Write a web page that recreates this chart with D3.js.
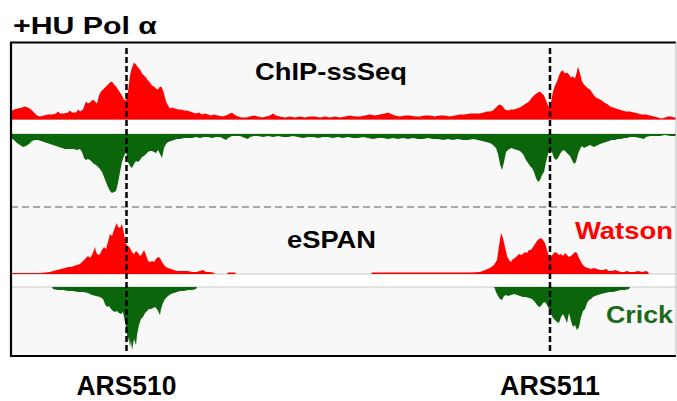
<!DOCTYPE html>
<html>
<head>
<meta charset="utf-8">
<script src="https://cdn.jsdelivr.net/npm/d3@7"></script>
<style>
  html, body { margin: 0; padding: 0; background: #ffffff; }
  svg { display: block; }
  text { font-family: "Liberation Sans", Arial, Helvetica, sans-serif; font-weight: bold; }
</style>
</head>
<body>
<svg id="chart" width="677" height="401"></svg>
<script>
// Genome browser window: positions are bin indices across the window, values are
// strand-specific read densities (Watson drawn upward, Crick drawn downward).
const windowBins = [0, 665];

// Origins marked with dashed guides
const origins = [
  { name: "ARS510", bin: 115.5 },
  { name: "ARS511", bin: 539 }
];

// ChIP-ssSeq, Watson strand  [bin, density]
const chipWatson = [
  [0,8],[3,10],[7,11],[11,12],[14,13],[17,12],[20,10],[23,7],[26,4],[29,3],[33,4],[37,5],[41,5],[45,6],[47,8],[49,6],
  [53,6],[57,7],[59,9],[61,7],[65,7],[67,10],[69,8],[72,10],[75,18],[77,16],[79,17],[82,20],[84,18],[86,16],[88,24],
  [90,28],[92,30],[95,33],[97,35],[99,37],[101,38],[103,35],[105,33],[107,30],[109,27],[111,24],[113,20],[115,19],
  [117,28],[119,44],[121,52],[123,57],[125,55],[127,52],[129,50],[131,46],[133,44],[135,42],[137,39],[139,37],[141,34],
  [143,33],[145,31],[147,30],[149,33],[151,32],[153,26],[155,18],[157,14],[159,11],[161,12],[164,11],[167,10],[170,10],
  [173,9],[176,9],[179,8],[182,7],[185,6],[188,7],[191,5],[194,6],[197,5],[200,4],[203,5],[207,4],[211,3],[215,4],
  [219,6],[221,7],[223,5],[227,3],[231,2],[235,2],[239,3],[243,4],[247,3],[251,2],[255,3],[259,4],[262,6],[265,4],
  [269,3],[274,2],[279,3],[284,2],[289,3],[294,2],[299,3],[304,3],[309,2],[314,3],[319,2],[324,3],[329,2],[334,3],
  [339,4],[344,3],[349,3],[354,4],[359,5],[364,4],[369,5],[374,6],[377,7],[379,6],[384,4],[389,3],[394,4],[399,4],
  [404,3],[409,3],[414,4],[419,4],[424,3],[429,4],[434,4],[439,3],[444,4],[449,5],[454,5],[459,6],[464,6],[469,6],
  [473,7],[476,8],[479,8],[482,9],[485,12],[488,15],[491,14],[494,10],[497,9],[500,10],[503,10],[506,11],[509,12],
  [512,14],[515,16],[518,18],[521,22],[524,25],[527,27],[529,28],[531,26],[533,24],[535,19],[537,14],[538,12],[540,17],
  [542,28],[544,34],[546,38],[548,44],[550,48],[552,49],[554,46],[556,47],[558,45],[560,42],[562,43],[564,41],[566,48],
  [567,53],[569,46],[571,38],[573,35],[575,33],[577,31],[579,30],[581,27],[583,24],[585,22],[587,21],[589,20],[591,19],
  [593,17],[595,16],[597,15],[599,13],[602,12],[605,11],[608,10],[611,9],[615,8],[619,8],[623,7],[627,6],[631,5],
  [635,5],[639,4],[643,3],[647,2],[651,1],[654,2],[657,3],[660,3],[663,2],[665,2]
];

// ChIP-ssSeq, Crick strand  [bin, density]
const chipCrick = [
  [0,4],[3,6],[6,9],[9,11],[12,13],[15,12],[18,10],[21,7],[24,6],[27,6],[30,7],[33,8],[36,9],[39,10],[42,11],[45,12],
  [48,13],[51,14],[54,15],[57,15],[60,15],[63,15],[66,16],[69,15],[71,18],[73,24],[75,26],[77,25],[79,26],[81,28],
  [83,30],[85,31],[87,33],[89,35],[91,38],[93,43],[95,48],[97,53],[99,57],[101,59],[103,58],[105,57],[107,49],[109,38],
  [111,28],[113,22],[115,18],[117,28],[119,32],[121,34],[123,30],[125,27],[127,28],[129,26],[131,23],[133,22],[135,20],
  [137,18],[139,17],[141,17],[143,18],[145,19],[147,16],[149,20],[151,24],[153,14],[155,10],[157,8],[160,7],[163,6],
  [166,5],[169,5],[173,4],[177,4],[181,4],[185,3],[189,4],[193,3],[197,3],[201,4],[205,3],[209,3],[213,5],[215,6],
  [217,4],[221,2],[225,2],[229,2],[234,4],[237,5],[239,3],[243,2],[247,2],[252,3],[257,2],[262,3],[267,2],[272,3],
  [277,3],[282,2],[287,3],[292,4],[297,3],[302,3],[307,4],[312,3],[317,3],[322,4],[327,3],[332,4],[337,3],[342,4],
  [347,4],[352,3],[357,4],[362,5],[367,4],[372,4],[377,5],[382,4],[387,5],[392,4],[397,5],[402,4],[407,5],[412,5],
  [417,4],[422,5],[427,5],[432,6],[437,5],[442,6],[447,5],[452,6],[457,6],[462,5],[467,6],[471,7],[475,8],[479,9],
  [482,11],[485,14],[487,20],[489,30],[491,36],[493,28],[495,18],[497,16],[500,14],[503,15],[506,16],[509,17],[512,20],
  [515,26],[517,29],[519,32],[521,34],[523,38],[525,44],[527,48],[529,46],[531,41],[533,38],[535,28],[537,20],[539,16],
  [541,18],[543,24],[545,26],[547,24],[549,20],[551,17],[553,16],[555,18],[557,20],[559,22],[561,26],[563,30],[565,28],
  [567,20],[569,15],[571,12],[573,14],[575,13],[577,12],[579,11],[581,12],[583,13],[585,12],[587,11],[589,10],[592,9],
  [595,8],[598,7],[601,6],[604,6],[607,5],[610,5],[613,4],[616,4],[619,3],[624,3],[629,4],[633,5],[635,3],[639,2],
  [644,2],[649,2],[654,1],[659,2],[665,2]
];

// eSPAN, Watson strand  [bin, density]
const espanWatson = [
  [0,1],[9,1],[19,1],[29,1],[39,2],[42,3],[46,4],[50,5],[54,6],[57,7],[60,7],[63,8],[66,9],[69,10],[71,12],[73,14],
  [75,16],[77,18],[79,16],[81,19],[83,24],[84,27],[85,22],[87,19],[89,20],[91,24],[93,27],[95,25],[97,32],[99,40],
  [101,38],[103,44],[105,49],[106,51],[107,47],[109,46],[111,50],[113,40],[115,30],[117,28],[119,26],[121,22],[123,20],
  [125,23],[127,21],[129,18],[131,20],[133,24],[135,19],[137,13],[139,12],[141,13],[143,12],[145,15],[147,17],[149,16],
  [151,12],[153,9],[155,7],[157,6],[160,5],[163,4],[166,3],[169,3],[173,3],[177,3],[181,2],[185,2],[189,3],[192,4],
  [195,2],[199,2],[202,1.5],[204,0],[216,0],[217,1.5],[224,1.5],[225,0],[360,0],[361,1.5],[380,1.5],[400,1.5],[420,1.5],
  [440,1.5],[460,1.5],[469,2],[474,4],[479,6],[483,9],[486,14],[488,28],[490,41],[492,36],[494,27],[496,18],[498,14],
  [500,12],[502,15],[504,16],[506,18],[508,20],[510,19],[512,20],[514,22],[516,21],[518,24],[520,24],[522,27],[524,30],
  [526,33],[528,35],[530,36],[532,34],[534,31],[536,24],[538,18],[540,17],[542,20],[544,22],[546,21],[548,19],[550,20],
  [552,18],[554,21],[556,19],[558,17],[560,18],[562,20],[564,22],[566,21],[568,16],[570,12],[572,9],[574,7],[577,6],
  [580,5],[583,6],[586,5],[589,4],[592,4],[595,5],[598,3],[601,3],[604,4],[607,3],[610,2],[613,2],[616,3],[619,2],
  [623,2],[627,3],[631,2],[635,3],[637,2],[638,0],[665,0]
];

// eSPAN, Crick strand  [bin, density]
const espanCrick = [
  [0,0],[41,0],[42,2],[47,3],[52,3],[57,4],[62,4],[67,5],[72,5],[77,6],[81,8],[85,9],[89,10],[92,12],[94,17],[96,20],
  [98,19],[100,22],[102,24],[104,25],[106,24],[108,26],[110,27],[112,25],[113,30],[115,40],[117,55],[118,50],[119,60],
  [120,54],[121,63],[123,52],[125,58],[126,48],[128,38],[130,32],[132,30],[134,26],[136,24],[138,22],[140,22],[142,21],
  [144,20],[146,22],[148,26],[149,28],[150,22],[152,16],[154,12],[157,9],[160,7],[163,6],[166,5],[169,4],[173,4],
  [177,3],[181,3],[185,2],[186,0],[483,0],[484,2],[485,5],[487,9],[489,12],[491,13],[493,9],[495,8],[497,9],[500,8],
  [503,7],[506,8],[509,9],[512,10],[515,10],[518,11],[521,12],[524,15],[526,18],[528,20],[530,19],[532,16],[534,15],
  [536,18],[538,22],[540,27],[542,31],[544,33],[546,35],[548,36],[550,30],[552,27],[554,31],[556,36],[558,26],[560,34],
  [562,40],[564,38],[566,43],[568,40],[570,30],[572,24],[574,22],[576,16],[578,13],[580,12],[582,10],[584,9],[587,8],
  [590,7],[594,6],[598,5],[602,5],[606,4],[610,3],[614,3],[618,2],[619,0],[665,0]
];

// Track text
const titleText = "+HU Pol α";
const trackNames = ["ChIP-ssSeq", "eSPAN"];
const strandNames = ["Watson", "Crick"];

const colors = {
  watson: "#ff0000",
  crick: "#0b650b",
  crickText: "#1a6a1a",
  panel: "#f8f8f8",
  baseline: "#c8c8c8",
  divider: "#a8a8a8"
};

const svg = d3.select("#chart");

const frame = { left: 11, right: 676, top: 42.5, bottom: 356 };

const x = d3.scaleLinear().domain(windowBins).range([frame.left, frame.right]);

// Each strand track has its own vertical scale (0 at its baseline)
const densityMax = 60;
const tracks = [
  { data: chipWatson,  base: 119.5, dir: -1, fill: colors.watson },
  { data: chipCrick,   base: 134,   dir:  1, fill: colors.crick },
  { data: espanWatson, base: 274,   dir: -1, fill: colors.watson },
  { data: espanCrick,  base: 287,   dir:  1, fill: colors.crick }
];

// Panel background
svg.append("rect")
  .attr("x", frame.left).attr("y", frame.top)
  .attr("width", frame.right - frame.left).attr("height", frame.bottom - frame.top)
  .attr("fill", colors.panel);

// White band between strands of each assay
[[119.5, 134], [274, 287]].forEach(([a, b]) => {
  svg.append("rect")
    .attr("x", frame.left).attr("y", a)
    .attr("width", frame.right - frame.left).attr("height", b - a)
    .attr("fill", "#ffffff");
});

// Strand baselines
tracks.forEach(t => {
  svg.append("line")
    .attr("x1", frame.left).attr("x2", frame.right)
    .attr("y1", t.base).attr("y2", t.base)
    .attr("stroke", colors.baseline).attr("stroke-width", 1.2);
});

// Coverage areas (filled only, so empty stretches leave the grey baseline visible)
tracks.forEach(t => {
  const y = d3.scaleLinear().domain([0, densityMax])
    .range([t.base, t.base + t.dir * densityMax]);
  const area = d3.area()
    .x(d => x(d[0]))
    .y0(y(0))
    .y1(d => y(d[1]))
    .curve(d3.curveLinear);
  svg.append("path")
    .datum(t.data)
    .attr("d", area)
    .attr("fill", t.fill);
});

// Divider between the two assays
svg.append("line")
  .attr("x1", frame.left).attr("x2", frame.right)
  .attr("y1", 207).attr("y2", 207)
  .attr("stroke", colors.divider).attr("stroke-width", 2)
  .attr("stroke-dasharray", "7,4");

// Origin guides
svg.selectAll("line.origin")
  .data(origins)
  .join("line")
  .attr("class", "origin")
  .attr("x1", d => x(d.bin)).attr("x2", d => x(d.bin))
  .attr("y1", 48).attr("y2", 354)
  .attr("stroke", "#000").attr("stroke-width", 2.5)
  .attr("stroke-dasharray", "6,3");

// Frame: heavy top/left/bottom, faint right edge
svg.append("path")
  .attr("d", `M${frame.right},${frame.top}H${frame.left}V${frame.bottom}H${frame.right}`)
  .attr("fill", "none").attr("stroke", "#000").attr("stroke-width", 2.2);
svg.append("line")
  .attr("x1", frame.right).attr("x2", frame.right)
  .attr("y1", frame.top).attr("y2", frame.bottom)
  .attr("stroke", "#bbbbbb").attr("stroke-width", 1);

// Title
svg.append("text")
  .attr("x", 13).attr("y", 34)
  .attr("font-size", 23)
  .attr("textLength", 144).attr("lengthAdjust", "spacingAndGlyphs")
  .text(titleText);

// Assay names
svg.append("text")
  .attr("x", 255).attr("y", 80)
  .attr("font-size", 24)
  .attr("textLength", 152).attr("lengthAdjust", "spacingAndGlyphs")
  .text(trackNames[0]);
svg.append("text")
  .attr("x", 287).attr("y", 248)
  .attr("font-size", 24)
  .attr("textLength", 89).attr("lengthAdjust", "spacingAndGlyphs")
  .text(trackNames[1]);

// Strand legend
svg.append("text")
  .attr("x", 575).attr("y", 239)
  .attr("font-size", 24).attr("fill", colors.watson)
  .attr("textLength", 98).attr("lengthAdjust", "spacingAndGlyphs")
  .text(strandNames[0]);
svg.append("text")
  .attr("x", 606).attr("y", 323)
  .attr("font-size", 24).attr("fill", colors.crickText)
  .attr("textLength", 67).attr("lengthAdjust", "spacingAndGlyphs")
  .text(strandNames[1]);

// Origin names under the panel
svg.selectAll("text.origin-label")
  .data(origins)
  .join("text")
  .attr("class", "origin-label")
  .attr("x", d => x(d.bin)).attr("y", 395)
  .attr("text-anchor", "middle")
  .attr("font-size", 27)
  .attr("textLength", 100).attr("lengthAdjust", "spacingAndGlyphs")
  .text(d => d.name);
</script>
</body>
</html>
